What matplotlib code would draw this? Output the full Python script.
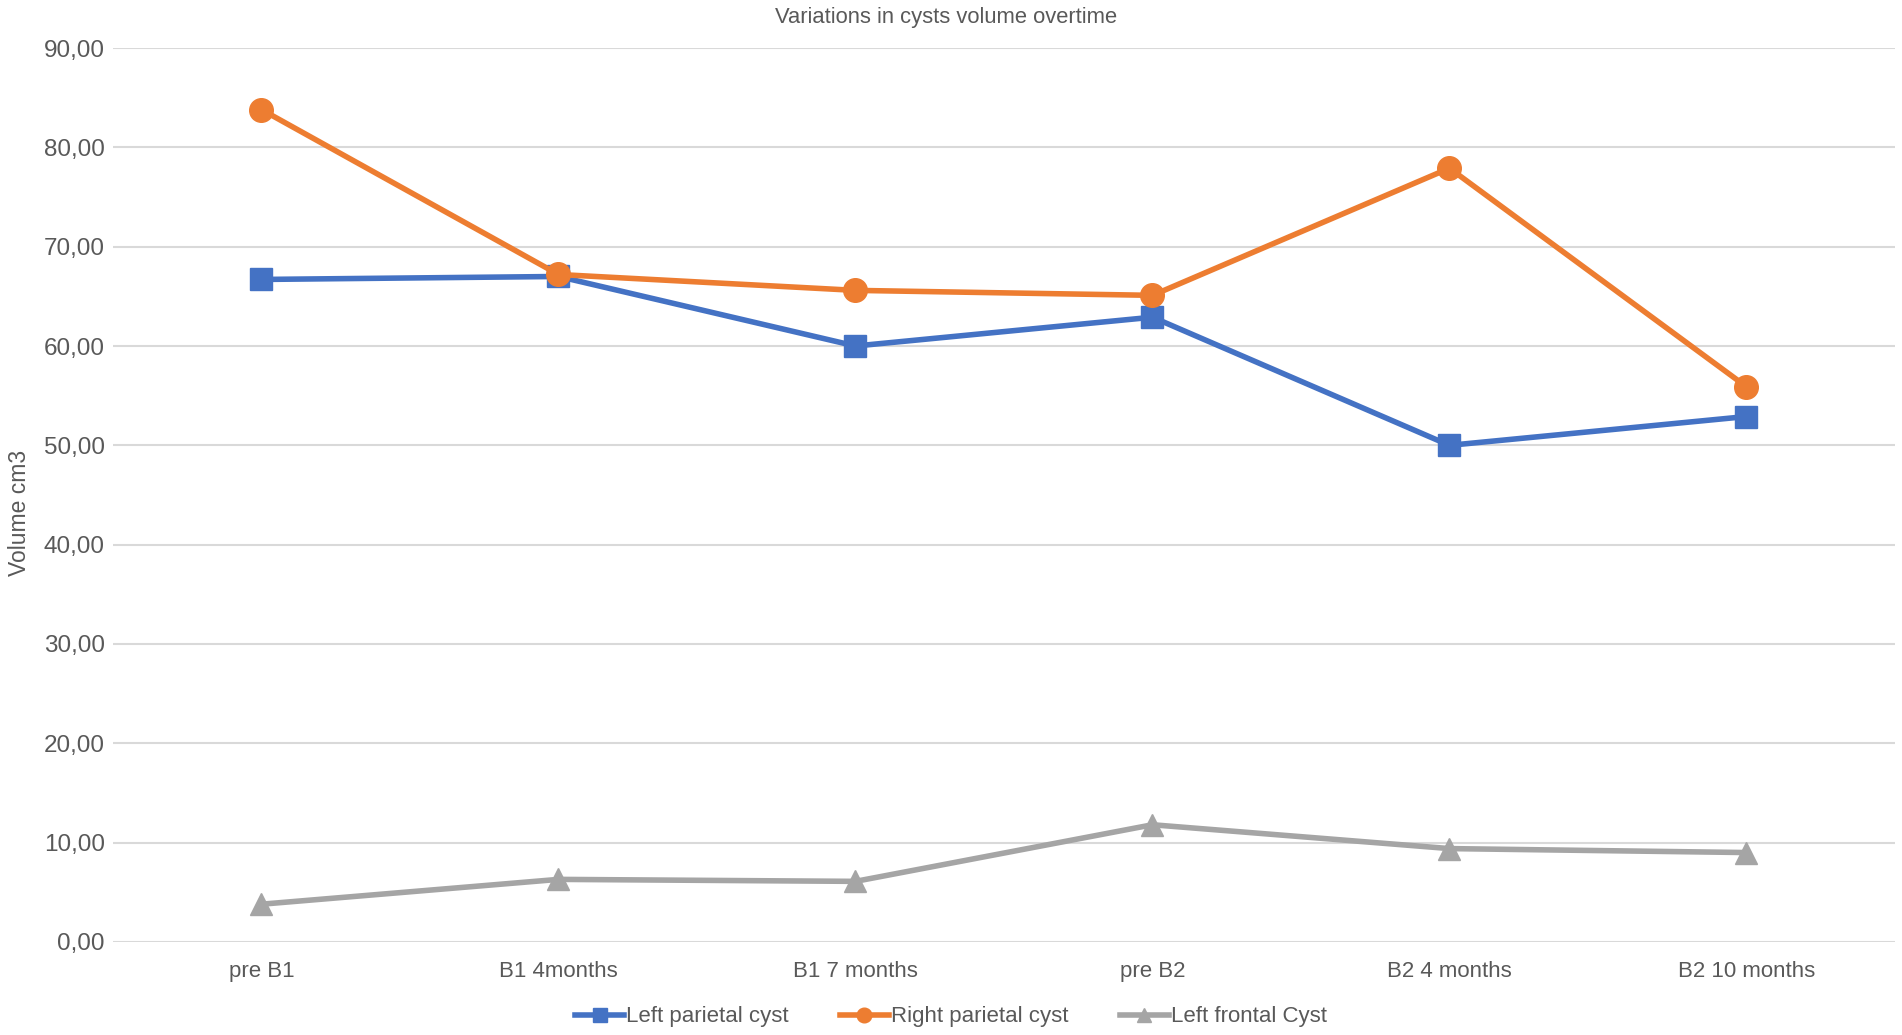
import numpy as np
import matplotlib.pyplot as plt

plt.rcParams['font.family'] = ['Liberation Sans', 'DejaVu Sans']

categories = ['pre B1', 'B1 4months', 'B1 7 months', 'pre B2', 'B2 4 months', 'B2 10 months']
left_parietal = [66.7, 67.0, 60.0, 62.9, 50.0, 52.9]
right_parietal = [83.8, 67.2, 65.6, 65.1, 77.9, 55.9]
left_frontal = [3.8, 6.3, 6.1, 11.8, 9.4, 9.0]
yticks = np.arange(0, 91, 10)

txt = '#595959'
fig = plt.figure(figsize=(19.02, 10.35), dpi=100)
ax = fig.add_axes([0.0594, 0.0899, 0.9369, 0.8637])

x = np.arange(len(categories))
ax.plot(x, left_parietal, color='#4472C4', lw=4, marker='s', ms=16, label='Left parietal cyst', zorder=3)
ax.plot(x, right_parietal, color='#ED7D31', lw=4, marker='o', ms=17, label='Right parietal cyst', zorder=3)
ax.plot(x, left_frontal, color='#A5A5A5', lw=4, marker='^', ms=16, label='Left frontal Cyst', zorder=3)

ax.set_xlim(-0.5, len(categories) - 0.5)
ax.set_ylim(0, 90)
ax.set_yticks(yticks)
ax.set_yticklabels([f'{v:.2f}'.replace('.', ',') for v in yticks], fontsize=17.5, color=txt)
ax.set_xticks(x)
ax.set_xticklabels(categories, fontsize=16, color=txt)
ax.tick_params(axis='x', length=0, pad=14)
ax.tick_params(axis='y', length=0, pad=6)
ax.grid(axis='y', color='#D9D9D9', lw=1.5)
ax.set_axisbelow(True)
for s in ax.spines.values():
    s.set_visible(False)

fig.text(0.4975, 0.983, 'Variations in cysts volume overtime', fontsize=15.8, color=txt, ha='center', va='center')
fig.text(0.004, 0.504, 'Volume cm3', rotation=90, fontsize=16.5, color=txt, va='center', ha='left')

fig.legend(loc='lower center', bbox_to_anchor=(0.5, -0.012), ncol=3, frameon=False,
           fontsize=16, labelcolor=txt, markerscale=0.62, handlelength=2.2,
           handletextpad=0.1, columnspacing=2.3)

fig.savefig('out.png', dpi=100)
